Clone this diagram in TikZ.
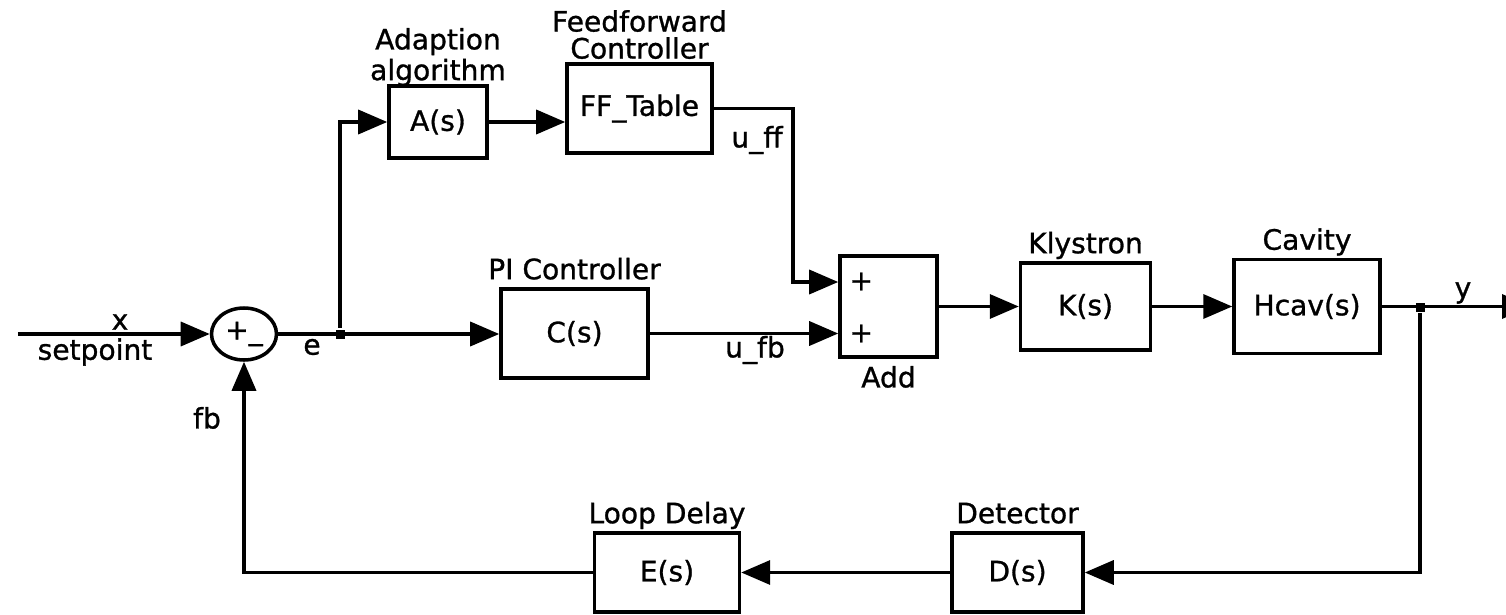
\documentclass[tikz,border=0pt]{standalone}
\usepackage{fontspec}
\setmainfont[FakeBold=1]{DejaVu Sans}
\usetikzlibrary{shapes.geometric,arrows.meta,positioning}

\begin{document}
\begin{tikzpicture}[font=\fontsize{8}{7.7}\selectfont,line width=1pt,node distance=0.8cm,
 blk/.style={draw,minimum width=#1,align=center,inner sep=0pt},
 lbl/.style={align=center,inner sep=1pt},
 dot/.style={fill,minimum size=0.9mm,inner sep=0pt},
 arr/.style={-{Triangle[length=2.9mm,width=2.4mm]}}]
\useasboundingbox (0,0) rectangle (15.06,-6.15);
\clip (0,0) rectangle (15.06,-6.15);
% forward path
\node[draw,ellipse,minimum width=0.65cm,minimum height=0.52cm,inner sep=0pt](sum) at (2.44,-3.34){+\_};
\node[blk=1.47cm,minimum height=0.89cm](c) at (5.745,-3.335){C(s)};
\node[blk=0.98cm,minimum height=0.72cm](a) at (4.38,-1.22){A(s)};
\node[blk=1.45cm,minimum height=0.89cm](ff) at (6.395,-1.085){FF\_Table};
\node[blk=0.97cm,minimum height=1.01cm](add) at (8.885,-3.065){};
\node[blk=1.30cm,minimum height=0.87cm,right=of add](k){K(s)};
\node[blk=1.46cm,minimum height=0.94cm,right=of k](cav){Hcav(s)};
% feedback path
\node[blk=1.31cm,minimum height=0.79cm](d) at (10.175,-5.725){D(s)};
\node[blk=1.45cm,minimum height=0.79cm,left=2.09cm of d](e){E(s)};
% block titles
\node[lbl,above=-0.7mm of a](alab){Adaption\\algorithm};
\node[lbl,above=-0.2mm of ff](fflab){Feedforward\\Controller};
\node[lbl,anchor=base](clab) at ([yshift=0.08cm]c.north){PI Controller};
\node[lbl,anchor=base](klab) at ([yshift=0.08cm]k.north){Klystron};
\node[lbl,anchor=base](cavlab) at ([yshift=0.08cm]cav.north){Cavity};
\node[lbl,anchor=base](elab) at ([yshift=0.08cm]e.north){Loop Delay};
\node[lbl,anchor=base](dlab) at ([yshift=0.08cm]d.north){Detector};
\node[lbl,below=0.2mm of add](addlab){Add};
\node[lbl,anchor=west](p1) at ([xshift=0.6mm,yshift=0.25cm]add.west){+};
\node[lbl,anchor=west](p2) at ([xshift=0.6mm,yshift=-0.27cm]add.west){+};
% signal names
\node[lbl](xl) at (1.20,-3.22){x};
\node[lbl](spl) at (0.95,-3.52){setpoint};
\node[lbl](el) at (3.12,-3.47){e};
\node[lbl](fbl) at (2.07,-4.18){fb};
\node[lbl](uffl) at (7.57,-1.40){u\_ff};
\node[lbl](ufbl) at (7.55,-3.50){u\_fb};
\node[lbl](yl) at (14.63,-2.93){y};
% branch points
\node[dot](je) at (3.40,-3.34){};
\node[dot](jy) at (14.20,-3.07){};
\coordinate (xin) at (0.18,-3.34);
\coordinate (uff) at (7.93,-2.82);
\coordinate (yout) at (15.31,-3.07);
% connections
\draw[arr](xin)--(sum.west);\draw[arr](sum.east)--(sum.east-|c.west);
\draw[arr](je)|-(a.west);\draw[arr](a.east)--(a.east-|ff.west);
\draw[arr](ff.east)-|(uff)--(uff-|add.west);\draw[arr](c.east)--(c.east-|add.west);
\draw[arr](add)--(k);\draw[arr](k)--(cav);\draw[arr](cav.east)--(cav.east-|yout);
\draw[arr](jy)|-(d.east);\draw[arr](d)--(e);\draw[arr](e.west)-|(sum.south);
\end{tikzpicture}
\end{document}
